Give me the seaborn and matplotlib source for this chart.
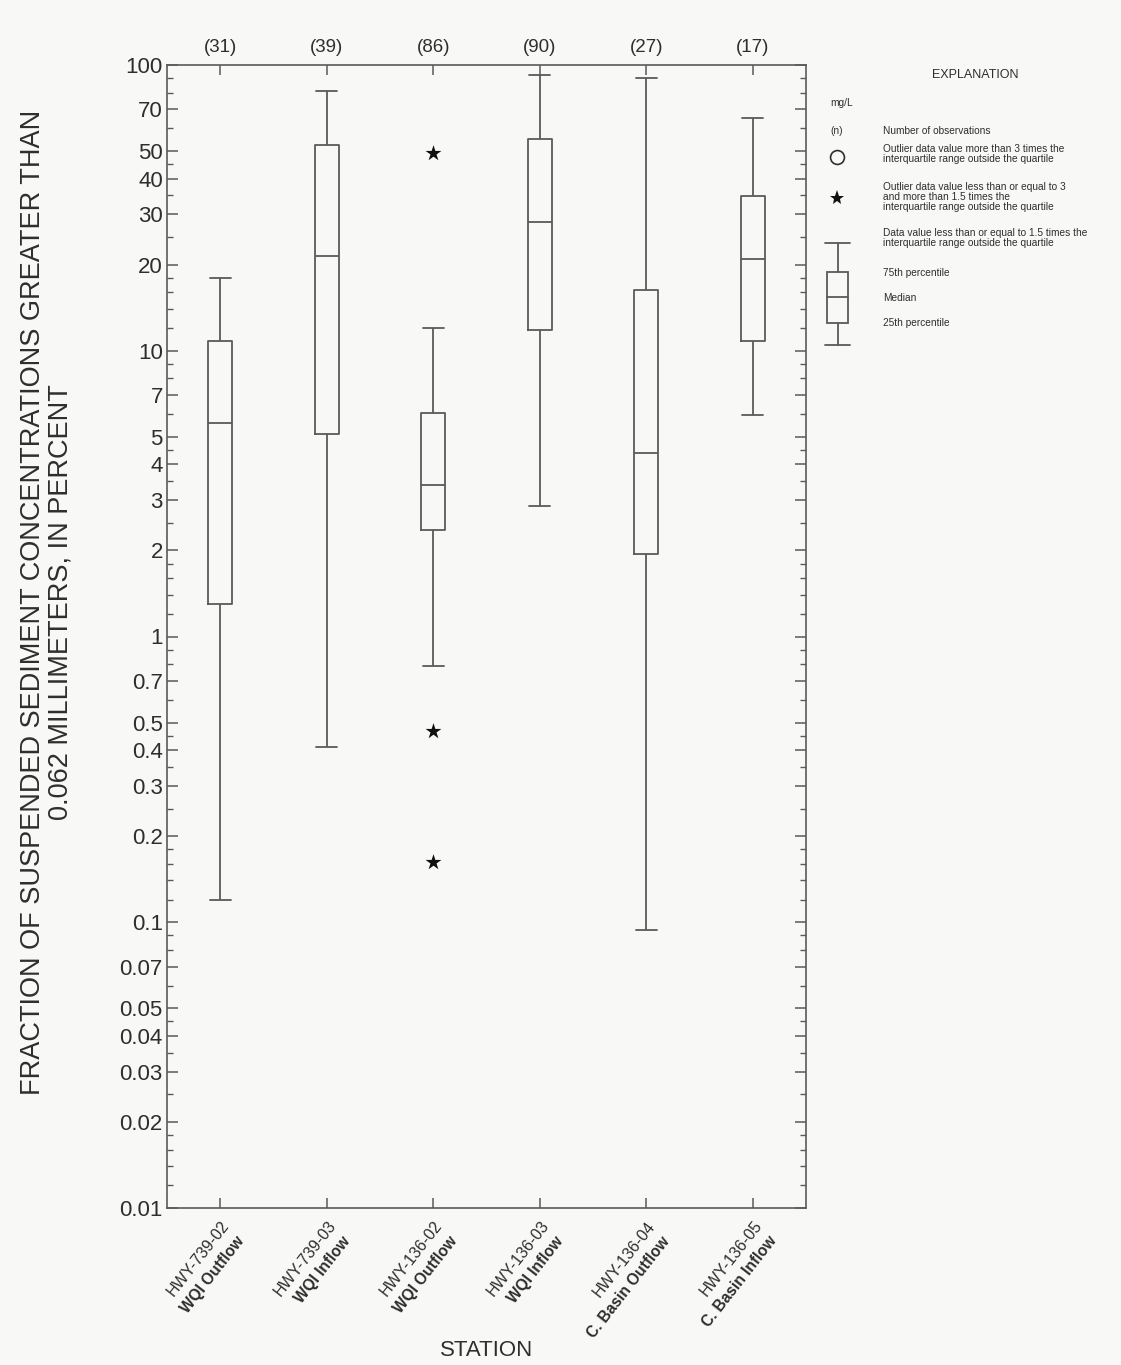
import numpy as np
import pandas as pd
import matplotlib
matplotlib.use("Agg")
import matplotlib.pyplot as plt
import matplotlib.transforms as mtransforms
from matplotlib.patches import Rectangle
from matplotlib.ticker import FixedLocator, NullFormatter
import seaborn as sns

# ---- data -------------------------------------------------------------
stations = ["HWY-739-02", "HWY-739-03", "HWY-136-02",
            "HWY-136-03", "HWY-136-04", "HWY-136-05"]
station_types = ["WQI Outflow", "WQI Inflow", "WQI Outflow",
                 "WQI Inflow", "C. Basin Outflow", "C. Basin Inflow"]
n_obs = [31, 39, 86, 90, 27, 17]

whisker_low = [0.12, 0.41, 0.79, 2.86, 0.094, 5.96]
pct25 = [1.30, 5.1, 2.36, 11.8, 1.95, 10.8]
median = [5.6, 21.5, 3.39, 28.3, 4.38, 20.9]
pct75 = [10.8, 52.5, 6.07, 55.1, 16.3, 34.9]
whisker_high = [18.0, 81.0, 12.0, 92.3, 89.8, 65.1]

outlier_station = ["HWY-136-02", "HWY-136-02", "HWY-136-02"]
outlier_value = [49.2, 0.468, 0.163]

ytick_values = [0.01, 0.02, 0.03, 0.04, 0.05, 0.07, 0.1, 0.2, 0.3, 0.4, 0.5,
                0.7, 1, 2, 3, 4, 5, 7, 10, 20, 30, 40, 50, 70, 100]
ytick_labels = ["0.01", "0.02", "0.03", "0.04", "0.05", "0.07", "0.1", "0.2",
                "0.3", "0.4", "0.5", "0.7", "1", "2", "3", "4", "5", "7",
                "10", "20", "30", "40", "50", "70", "100"]
minor_steps = [1.2, 1.4, 1.6, 1.8, 2.5, 3.5, 4.5, 6, 8, 9]

# Five-number summary per station in long form: with whiskers at the
# 0th/100th percentile the box statistics reproduce these values exactly.
summary = pd.DataFrame({
    "station": np.repeat(stations, 5),
    "value": np.column_stack([whisker_low, pct25, median, pct75,
                              whisker_high]).ravel(),
})
outliers = pd.DataFrame({"station": outlier_station, "value": outlier_value})

# ---- style --------------------------------------------------------------
sns.set_theme(style="ticks")
plt.rcParams["font.family"] = ["Liberation Sans", "DejaVu Sans"]
BG = "#f8f8f7"
LINE = "#5a5a5a"
TXT = "#2e2e2e"
plt.rcParams["text.color"] = TXT
plt.rcParams["axes.labelcolor"] = TXT
plt.rcParams["xtick.color"] = LINE
plt.rcParams["ytick.color"] = LINE
plt.rcParams["xtick.labelcolor"] = TXT
plt.rcParams["ytick.labelcolor"] = TXT

W, H = 1121, 1365
fig = plt.figure(figsize=(W / 100, H / 100), dpi=100, facecolor=BG)
ax = fig.add_axes([167 / W, 1 - 1208 / H, 639 / W, 1143 / H], facecolor=BG)
ax.set_yscale("log")

sns.boxplot(data=summary, x="station", y="value", order=stations,
            whis=(0, 100), width=0.225, fill=False, color=LINE,
            linewidth=1.3, ax=ax, capwidths=0.2)
sns.stripplot(data=outliers, x="station", y="value", order=stations,
              jitter=False, marker="*", size=12, color="#111111",
              linewidth=0, ax=ax, zorder=4)

ax.set_xlim(-0.5, len(stations) - 0.5)
ax.set_ylim(0.01, 100)

for s in ax.spines.values():
    s.set_visible(True)
    s.set_color(LINE)
    s.set_linewidth(1.2)

ax.yaxis.set_major_locator(FixedLocator(ytick_values))
ax.set_yticklabels(ytick_labels)
minor = [d * m for d in (0.01, 0.1, 1, 10) for m in minor_steps]
ax.yaxis.set_minor_locator(FixedLocator(minor))
ax.yaxis.set_minor_formatter(NullFormatter())
ax.tick_params(axis="y", which="major", direction="in", length=8, width=1.1,
               left=True, right=True, labelsize=16, pad=3)
ax.tick_params(axis="y", which="minor", direction="in", length=4.5,
               width=1.0, left=True, right=True)

positions = np.arange(len(stations))
ax.set_xticks(positions)
ax.set_xticklabels([""] * len(stations))
ax.tick_params(axis="x", which="major", direction="in", length=7, width=1.1,
               top=True, bottom=True)
ax.tick_params(axis="x", which="minor", bottom=False, top=False)

# observation counts above the plot
top_tr = mtransforms.blended_transform_factory(ax.transData, ax.transAxes)
for p, n in zip(positions, n_obs):
    ax.text(p, 1.0, f"({n})", transform=top_tr + mtransforms.ScaledTranslation(
        0, 9 / 100, fig.dpi_scale_trans), ha="center", va="bottom",
        fontsize=13.5)

# two-line rotated station labels (name, then bold site type)
ang = 52
rad = np.radians(ang)
normal = np.array([np.sin(rad), -np.cos(rad)])
along = np.array([np.cos(rad), np.sin(rad)])
off1 = np.array([6.0, -15.0])
off2 = off1 + normal * 21 - along * 3
for p, name, kind in zip(positions, stations, station_types):
    ax.text(p, 0, name, transform=top_tr + mtransforms.ScaledTranslation(
        off1[0] / 100, off1[1] / 100, fig.dpi_scale_trans),
        rotation=ang, rotation_mode="anchor", ha="right", va="center",
        fontsize=11.5)
    ax.text(p, 0, kind, transform=top_tr + mtransforms.ScaledTranslation(
        off2[0] / 100, off2[1] / 100, fig.dpi_scale_trans),
        rotation=ang, rotation_mode="anchor", ha="right", va="center",
        fontsize=11.2, fontweight="bold")

ax.set_xlabel("STATION", fontsize=16)
ax.xaxis.set_label_coords(0.5, -0.1155)
ax.set_ylabel("FRACTION OF SUSPENDED SEDIMENT CONCENTRATIONS GREATER THAN\n"
              "0.062 MILLIMETERS, IN PERCENT", fontsize=19.5, linespacing=1.05)
ax.yaxis.set_label_coords(-0.147, 0.53)

# ---- explanation panel ------------------------------------------------
lg = fig.add_axes([0, 0, 1, 1])
lg.set_axis_off()
lg.set_xlim(0, W)
lg.set_ylim(H, 0)
fs = 7.3
lg.text(975, 75, "EXPLANATION", ha="center", va="center", fontsize=9)
lg.text(830, 103, "mg/L", ha="left", va="center", fontsize=fs)
lg.text(830, 131, "(n)", ha="left", va="center", fontsize=fs)
lg.plot([837], [157], marker="o", ms=10, mfc="none", mec=TXT, mew=1.2)
lg.plot([837], [198], marker="*", ms=11, color="#111111", mew=0)
lg.plot([825, 850], [243, 243], color=LINE, lw=1.3)
lg.plot([837.5, 837.5], [243, 272], color=LINE, lw=1.3)
lg.add_patch(Rectangle((827, 272), 21, 51, fill=False, ec=LINE, lw=1.3))
lg.plot([827, 848], [297, 297], color=LINE, lw=1.3)
lg.plot([837.5, 837.5], [323, 345], color=LINE, lw=1.3)
lg.plot([825, 850], [345, 345], color=LINE, lw=1.3)
legend_lines = [
    (131, "Number of observations"),
    (149, "Outlier data value more than 3 times the"),
    (159, "interquartile range outside the quartile"),
    (187, "Outlier data value less than or equal to 3"),
    (197, "and more than 1.5 times the"),
    (207, "interquartile range outside the quartile"),
    (233, "Data value less than or equal to 1.5 times the"),
    (243, "interquartile range outside the quartile"),
    (273, "75th percentile"),
    (298, "Median"),
    (323, "25th percentile"),
]
for y, t in legend_lines:
    lg.text(883, y, t, ha="left", va="center", fontsize=fs)

fig.savefig("out.png", dpi=100, facecolor=BG)
